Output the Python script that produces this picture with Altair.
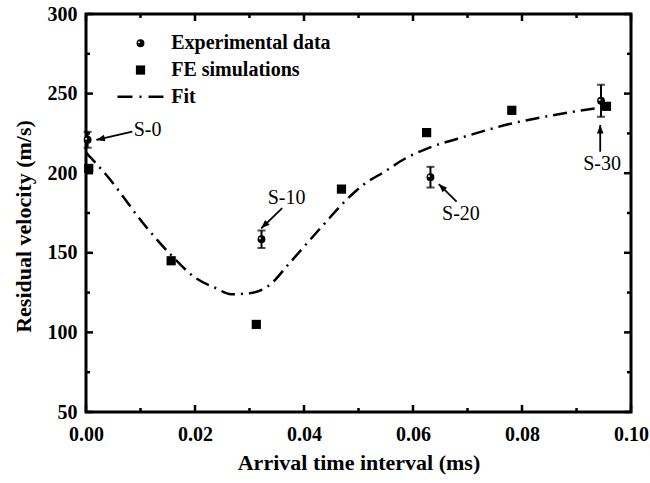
import altair as alt
import pandas as pd

FONT = "Liberation Serif"
W, H = 545, 398

# ---------------- data ----------------
exp_x = [0.0003, 0.0322, 0.0632, 0.0945]
exp_y = [221.0, 158.5, 197.5, 245.5]
exp_err = [5.0, 5.5, 6.5, 10.0]

fe_x = [0.0005, 0.015625, 0.03125, 0.046875, 0.0625, 0.078125, 0.0955]
fe_y = [203.0, 145.0, 105.0, 190.0, 225.5, 239.5, 242.0]

fit_x = [0.0, 0.0037, 0.011, 0.0155, 0.0202, 0.0239, 0.0266, 0.030, 0.0337,
         0.0373, 0.0438, 0.0477, 0.051, 0.0548, 0.0584, 0.0627, 0.070, 0.0777, 0.085, 0.0936]
fit_y = [213.0, 199.0, 166.4, 149.0, 134.0, 127.7, 124.0, 124.6, 129.8,
         143.4, 168.5, 183.0, 193.0, 201.0, 208.9, 215.6, 223.5, 230.9, 236.0, 240.8]

ann_labels = ["S-0", "S-10", "S-20", "S-30"]
ann_text_x = [0.0113, 0.0368, 0.0688, 0.0947]
ann_text_y = [227.1, 184.2, 174.1, 206.0]
arrow_tail_x = [0.0085, 0.0360, 0.0680, 0.09435]
arrow_tail_y = [226.1, 178.0, 182.1, 213.5]
arrow_head_x = [0.0019, 0.03215, 0.06473, 0.09435]
arrow_head_y = [220.9, 165.4, 193.2, 230.3]
arrow_angle = [257, 226, 315, 0]

legend_labels = ["Experimental data", "FE simulations", "Fit"]
legend_sym_x = 0.0100
legend_text_x = 0.01563
legend_y = [281.6, 264.8, 248.1]
legend_line_x = [0.00578, 0.0144]

x_major = [0.0, 0.02, 0.04, 0.06, 0.08, 0.10]
x_minor = [0.01, 0.03, 0.05, 0.07, 0.09]
y_major = [50, 100, 150, 200, 250, 300]
y_minor = [75, 125, 175, 225, 275]

# ---------------- tables ----------------
exp_df = pd.DataFrame({"x": exp_x, "y": exp_y,
                       "lo": [v - e for v, e in zip(exp_y, exp_err)],
                       "hi": [v + e for v, e in zip(exp_y, exp_err)]})
caps_df = pd.DataFrame({"x": exp_x * 2, "y": list(exp_df["lo"]) + list(exp_df["hi"])})
fe_df = pd.DataFrame({"x": fe_x, "y": fe_y})
fit_df = pd.DataFrame({"x": fit_x, "y": fit_y})
ann_df = pd.DataFrame({"x": ann_text_x, "y": ann_text_y, "label": ann_labels})
arrow_df = pd.DataFrame({"x": arrow_tail_x, "y": arrow_tail_y,
                         "x2": arrow_head_x, "y2": arrow_head_y})
head_df = pd.DataFrame({"x": arrow_head_x, "y": arrow_head_y, "angle": arrow_angle})
leg_text_df = pd.DataFrame({"x": [legend_text_x] * 3, "y": legend_y, "label": legend_labels})
leg_exp_df = pd.DataFrame({"x": [legend_sym_x], "y": [legend_y[0]]})
leg_fe_df = pd.DataFrame({"x": [legend_sym_x], "y": [legend_y[1]]})
leg_fit_df = pd.DataFrame({"x": legend_line_x, "y": [legend_y[2]] * 2})

xs = alt.Scale(domain=[0, 0.1], nice=False, zero=False)
ys = alt.Scale(domain=[50, 300], nice=False, zero=False)

def X(f="x"):
    return alt.X(f, type="quantitative", scale=xs)

def Y(f="y"):
    return alt.Y(f, type="quantitative", scale=ys)

axis_common = dict(grid=False, domain=False, ticks=False, labelFont=FONT,
                   labelFontWeight="bold", labelFontSize=20, labelColor="black",
                   titleFont=FONT, titleFontWeight="bold", titleFontSize=22,
                   titleColor="black", labelOverlap=False, labelFlush=False)

DASH = [14, 6, 2, 6]

fit = alt.Chart(fit_df).mark_line(color="black", strokeWidth=2.5, strokeDash=DASH,
                                  interpolate="monotone").encode(
    x=alt.X("x", type="quantitative", scale=xs, title="Arrival time interval (ms)",
            axis=alt.Axis(values=x_major, format=".2f", labelPadding=12, titlePadding=8,
                          **axis_common)),
    y=alt.Y("y", type="quantitative", scale=ys, title="Residual velocity (m/s)",
            axis=alt.Axis(values=y_major, format="d", labelPadding=9, titlePadding=12,
                          titleY=212, **axis_common)),
)

fe = alt.Chart(fe_df).mark_point(shape="square", filled=True, color="black",
                                 size=85, opacity=1).encode(x=X(), y=Y())

err = alt.Chart(exp_df).mark_rule(color="black", strokeWidth=2).encode(
    x=X(), y=Y("lo"), y2="hi")
caps = alt.Chart(caps_df).mark_tick(color="black", orient="horizontal", size=8,
                                    thickness=2).encode(x=X(), y=Y())

def ball(df):
    outer = alt.Chart(df).mark_circle(color="black", size=62, opacity=1).encode(
        x=X(), y=Y())
    inner = alt.Chart(df).mark_circle(color="#d8d8d8", size=5, opacity=1,
                                      xOffset=-1.5, yOffset=-1).encode(x=X(), y=Y())
    return [outer, inner]

arrows = alt.Chart(arrow_df).mark_rule(color="black", strokeWidth=1.8).encode(
    x=X(), y=Y(), x2="x2", y2="y2")
heads = alt.Chart(head_df).mark_point(shape="M0,0L0.65,1.7L-0.65,1.7Z", filled=True,
                                      color="black", size=100, opacity=1).encode(
    x=X(), y=Y(), angle=alt.Angle("angle:Q", scale=None))
ann = alt.Chart(ann_df).mark_text(font=FONT, fontSize=20, color="black",
                                  align="center", baseline="middle").encode(
    x=X(), y=Y(), text="label")

leg_text = alt.Chart(leg_text_df).mark_text(font=FONT, fontSize=20, fontWeight="bold",
                                            color="black", align="left",
                                            baseline="middle").encode(
    x=X(), y=Y(), text="label")
leg_fe = alt.Chart(leg_fe_df).mark_point(shape="square", filled=True, color="black",
                                         size=85, opacity=1).encode(x=X(), y=Y())
leg_fit = alt.Chart(leg_fit_df).mark_line(color="black", strokeWidth=2.5,
                                          strokeDash=[15, 7, 2, 7]).encode(x=X(), y=Y())

# inward axis ticks
xmaj_df = pd.DataFrame({"x": x_major})
xmin_df = pd.DataFrame({"x": x_minor})
ymaj_df = pd.DataFrame({"y": y_major})
ymin_df = pd.DataFrame({"y": y_minor})

def xticks(df, length):
    b = alt.Chart(df).mark_rule(color="black", strokeWidth=2.5).encode(
        x=X(), y=alt.value(H), y2=alt.value(H - length))
    t = alt.Chart(df).mark_rule(color="black", strokeWidth=2.5).encode(
        x=X(), y=alt.value(0), y2=alt.value(length))
    return [b, t]

def yticks(df, length):
    l = alt.Chart(df).mark_rule(color="black", strokeWidth=2.5).encode(
        y=Y(), x=alt.value(0), x2=alt.value(length))
    r = alt.Chart(df).mark_rule(color="black", strokeWidth=2.5).encode(
        y=Y(), x=alt.value(W), x2=alt.value(W - length))
    return [l, r]

layers = [fit, fe, err, caps] + ball(exp_df) + [arrows, heads, ann, leg_text, leg_fe,
                                                 leg_fit] + ball(leg_exp_df)
layers += xticks(xmaj_df, 7) + xticks(xmin_df, 4) + yticks(ymaj_df, 7) + yticks(ymin_df, 4)

chart = alt.layer(*layers).properties(
    width=W, height=H,
    autosize=alt.AutoSizeParams(type="none"),
    padding={"left": 86, "top": 14, "right": 19, "bottom": 71},
    background="white",
).configure_view(stroke="black", strokeWidth=3)

chart.save("out.html", embed_options={"renderer": "svg", "actions": False})
